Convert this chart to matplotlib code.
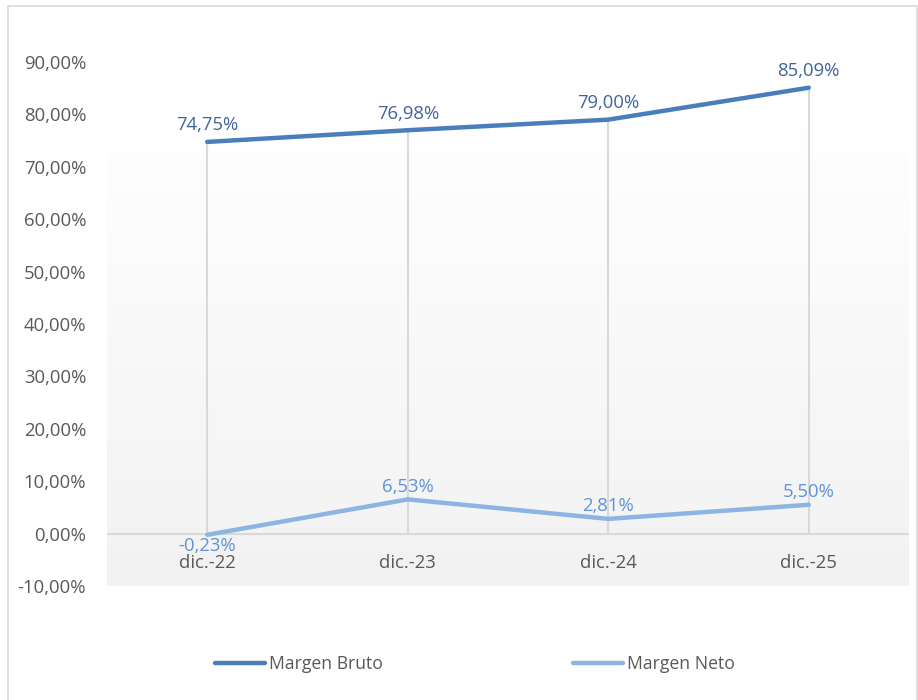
import matplotlib
matplotlib.use("Agg")
import matplotlib.pyplot as plt
import numpy as np
from matplotlib.patches import Rectangle

plt.rcParams['font.family'] = ['Open Sans', 'DejaVu Sans']

# datos
periodos = ['dic.-22', 'dic.-23', 'dic.-24', 'dic.-25']
margen_bruto = [74.75, 76.98, 79.00, 85.09]
margen_neto = [-0.23, 6.53, 2.81, 5.50]
y_ticks = [-10, 0, 10, 20, 30, 40, 50, 60, 70, 80, 90]

c_bruto = '#4a7ebb'
c_bruto_txt = '#41649c'
c_neto = '#8db4e2'
c_neto_txt = '#5f93d8'
gris_txt = '#595959'
gris_lin = '#d9d9d9'
fs = 13.3
fs_leyenda = 12.7

fig = plt.figure(figsize=(9.18, 7.0), dpi=100)
fig.patch.set_facecolor('white')
# marco exterior
fig.add_artist(Rectangle((8 / 918, -0.01), 909 / 918, 1 - 6 / 700 + 0.01, transform=fig.transFigure,
                         fill=False, edgecolor=gris_lin, linewidth=1.2))

ax = fig.add_axes([107 / 918, 1 - 586 / 700, 802 / 918, 524 / 700])
ax.set_facecolor('none')
x = np.arange(len(periodos))

# fondo degradado del area de trazado
grad = np.linspace(1.0, 0.0, 256).reshape(-1, 1)
top_frac = 0.8855
ax.imshow(grad, extent=[0, 1, 0, top_frac], transform=ax.transAxes, aspect='auto',
          cmap=matplotlib.colors.LinearSegmentedColormap.from_list('g', ['#f2f2f2', '#ffffff']),
          vmin=0, vmax=1, zorder=0)

ax.set_xlim(-0.5, len(periodos) - 0.5)
ax.set_ylim(-10, 90)

# lineas de caida y eje cero
tops = np.maximum(margen_bruto, margen_neto)
ax.vlines(x, 0, tops, color=gris_lin, linewidth=1.5, zorder=1)
ax.axhline(0, color=gris_lin, linewidth=1.5, zorder=1)

ax.plot(x, margen_bruto, color=c_bruto, linewidth=3.2, solid_capstyle='round', zorder=3, label='Margen Bruto')
ax.plot(x, margen_neto, color=c_neto, linewidth=3.2, solid_capstyle='round', zorder=3, label='Margen Neto')

def fmt(v):
    return f'{v:.2f}'.replace('.', ',') + '%'

for xi, v in zip(x, margen_bruto):
    ax.annotate(fmt(v), (xi, v), xytext=(0, 12), textcoords='offset points', ha='center', va='center',
                fontsize=fs, color=c_bruto_txt, zorder=4, annotation_clip=False)
for xi, v in zip(x, margen_neto):
    dy = -8 if v < 0 else 9
    ax.annotate(fmt(v), (xi, v), xytext=(0, dy), textcoords='offset points', ha='center', va='center',
                fontsize=fs, color=c_neto_txt, zorder=4, annotation_clip=False)

# etiquetas de categoria sobre el eje cero
for xi, p in zip(x, periodos):
    ax.annotate(p, (xi, 0), xytext=(0, -21), textcoords='offset points', ha='center', va='center',
                fontsize=fs, color=gris_txt)
ax.set_xticks([])

ax.set_yticks(y_ticks)
ax.set_yticklabels([f'{t},00%' for t in y_ticks])
ax.tick_params(axis='y', length=0, pad=15, labelsize=fs, labelcolor=gris_txt)
for s in ax.spines.values():
    s.set_visible(False)

fig.legend(loc='center', bbox_to_anchor=(475 / 918, 1 - 664 / 700), ncol=2, frameon=False,
           fontsize=fs_leyenda, handlelength=2.84, handletextpad=0.23, columnspacing=10.8,
           labelcolor=gris_txt)

plt.savefig('out.png', dpi=100)
